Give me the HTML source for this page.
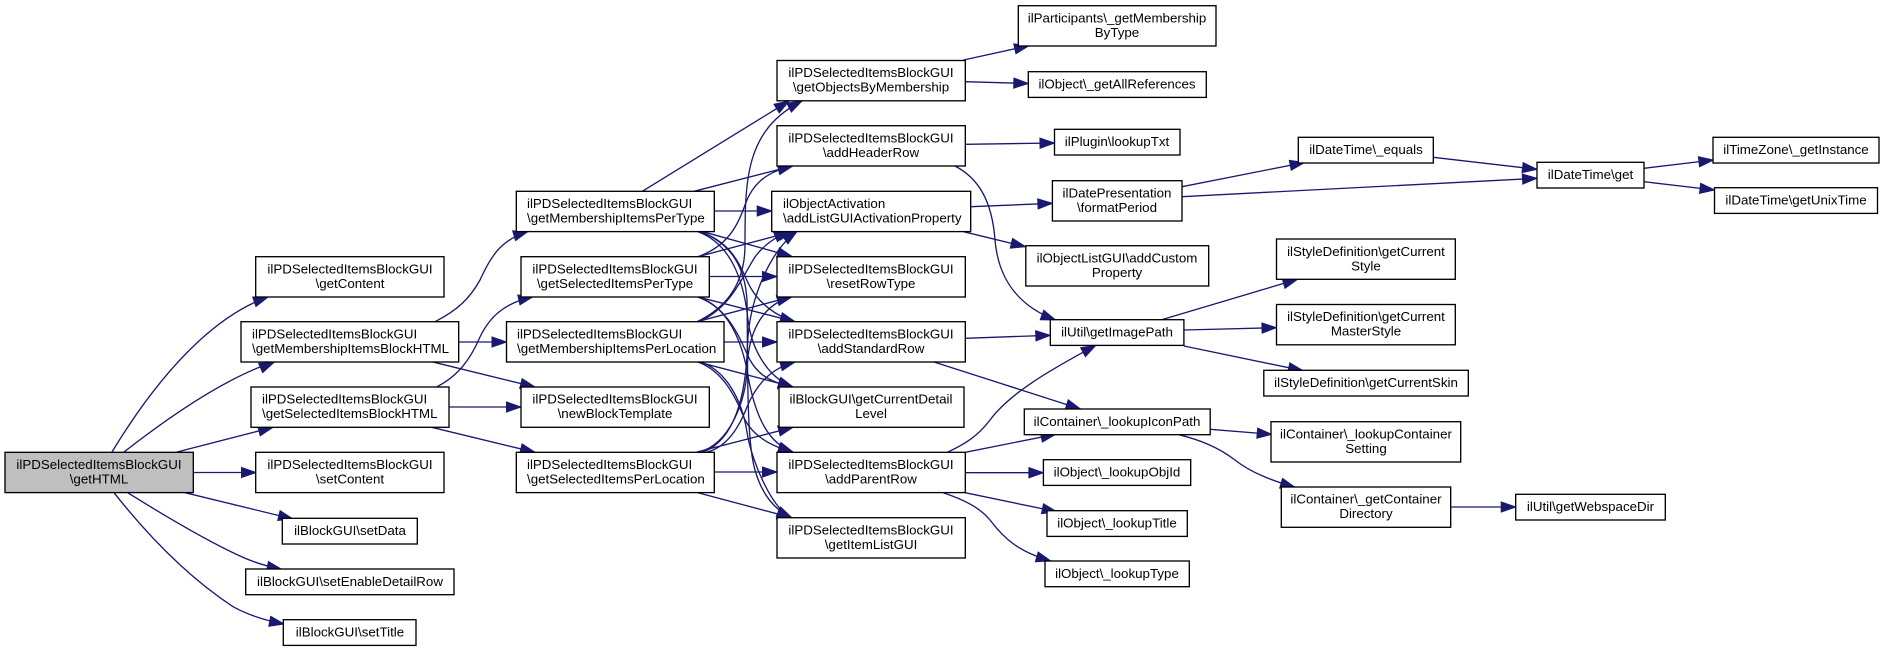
<!DOCTYPE html>
<html><head><meta charset="utf-8"><style>
html,body{margin:0;padding:0;background:#fff}
svg{display:block}
text{font-family:"Liberation Sans",Arial,sans-serif;font-size:13.33px;fill:#000;text-anchor:middle}
text.l{text-anchor:start}
rect{fill:#fff;stroke:#000;stroke-width:1.33}
path{fill:none;stroke:#191970;stroke-width:1.33;marker-end:url(#a)}
#a path{fill:#191970;stroke:#191970;stroke-width:1;marker-end:none}
</style></head><body>
<svg xmlns="http://www.w3.org/2000/svg" width="1884" height="651" viewBox="0 0 1884 651">
<defs><marker id="a" markerUnits="userSpaceOnUse" markerWidth="17" markerHeight="13" refX="15.5" refY="6.25" orient="auto"><path d="M1,1.2L15.5,6.25L1,11.3Z"/></marker></defs>
<g>
<!-- getHTML edges -->
<path d="M112,452C135,414 165,372 200,340C222,320 245,305 268,297"/>
<path d="M124,452C165,420 215,385 260,367C265,365 270,364 274,362.3"/>
<path d="M177,452L273,427.3"/>
<path d="M193,472.5L256,472.5"/>
<path d="M185,492.7L293,519"/>
<path d="M127.7,492.7C165,516 205,540 240,556C255,563 270,567 281.7,569.3"/>
<path d="M114,492.7C145,532 185,575 233,606.7C250,616 268,621 284,624"/>
<!-- block html edges -->
<path d="M435.7,321.3C458,310 470,298 480,280C490,258 500,240 528,231.5"/>
<path d="M458.7,342L506.5,342"/>
<path d="M431.7,361.7L535,387"/>
<path d="M437,386.7C458,376 470,360 480,337C490,316 505,303 533,296.7"/>
<path d="M449,407L521,407"/>
<path d="M431.7,427.3L535,452.3"/>
<!-- column 3 to 4 -->
<path d="M642.3,191.3L789,101"/>
<path d="M694,191.3L792.7,166"/>
<path d="M714.3,211L771.7,211"/>
<path d="M703,231.7L792,256.5"/>
<path d="M700,231.7C738,244 742,275 752,290C760,303 775,316 795,321.7"/>
<path d="M698,231.7C735,245 745,290 748,320C752,352 770,379 793,387"/>
<path d="M701,231.7C732,244 745,268 747,300C748,360 746,440 755,470C762,495 775,510 791.7,517.7"/>
<path d="M698,256.7C728,246 738,225 745,205C752,185 765,172 792.7,166"/>
<path d="M698,256.7L793,231.5"/>
<path d="M709.3,276.5L777,276.5"/>
<path d="M697,296.7L795,321.7"/>
<path d="M697,296.7C730,308 740,340 750,360C760,378 775,383 793,387"/>
<path d="M697,296.7C725,305 740,335 747,370C755,420 770,444 793,452"/>
<path d="M697,321.7C730,306 745,280 745,245C745,180 745,130 802,101"/>
<path d="M699,321.7C732,307 743,275 755,257C765,243 778,236 789,231.5"/>
<path d="M697,321.7L791.7,296.7"/>
<path d="M724,342L777,342"/>
<path d="M697,361.7L793,387"/>
<path d="M697,361.7C722,370 735,395 745,420C755,438 773,447 793,452"/>
<path d="M700,361.7C726,370 742,400 747,432C750,455 770,508 791.7,517.7"/>
<path d="M703,452C735,440 746,395 747.5,345C749,300 770,250 797,231.5"/>
<path d="M699,452C730,444 746,400 747,370C748,335 760,305 792,296.7"/>
<path d="M707,452C728,447 740,425 747,407C757,383 772,368 795,362"/>
<path d="M697,452L793,427.3"/>
<path d="M714.3,472L777,472"/>
<path d="M697,492.5L791.7,517.7"/>
<!-- right side -->
<path d="M963.6,60L1029,45.7"/>
<path d="M965.3,81.7L1028.3,83.5"/>
<path d="M965.3,144.3L1054.5,143"/>
<path d="M955,166C978,178 992,200 995,240C998,275 1015,305 1055.6,320"/>
<path d="M970.8,206.7L1052.4,203.3"/>
<path d="M963.6,231.7L1025.5,246.7"/>
<path d="M1182,186.7L1304.5,162.5"/>
<path d="M1182,196.7L1537,178.3"/>
<path d="M1433.3,157.3L1537,169.3"/>
<path d="M1644,168.3L1713.4,160"/>
<path d="M1644,181.7L1714.5,190"/>
<path d="M1161.6,319.7L1297.5,279.3"/>
<path d="M1183.9,330L1276.5,327.7"/>
<path d="M1183.9,346L1303,370.7"/>
<path d="M965.3,338.3L1050.3,335.3"/>
<path d="M934,362L1080.5,409"/>
<path d="M947.3,452.3C965,444 978,436 990,420C1010,393 1050,370 1095.8,345.3"/>
<path d="M965.3,452.3L1055.6,434.3"/>
<path d="M965.3,472.7L1043.4,472.7"/>
<path d="M965,492.7L1056.7,511.7"/>
<path d="M943.3,492.7C965,500 980,508 990,520C1005,540 1020,552 1050.7,561"/>
<path d="M1210,429.3L1271.7,434.3"/>
<path d="M1178.9,434.7C1200,440 1218,447 1235,460C1250,472 1270,480 1295,487.3"/>
<path d="M1450.7,507L1515.7,507"/>
</g>
<g>
<rect x="5" y="452.3" width="188.3" height="40.3" style="fill:#bfbfbf"/><text x="99" y="469">ilPDSelectedItemsBlockGUI</text><text x="99" y="483.5">\getHTML</text>
<rect x="255.7" y="256.7" width="188.3" height="40.3"/><text x="350" y="273.5">ilPDSelectedItemsBlockGUI</text><text x="350" y="288">\getContent</text>
<rect x="241" y="321.7" width="217.7" height="40.3"/><text class="l" x="252" y="338.5">ilPDSelectedItemsBlockGUI</text><text class="l" x="252" y="353">\getMembershipItemsBlockHTML</text>
<rect x="251" y="387" width="198" height="40.3"/><text class="l" x="262" y="403.5">ilPDSelectedItemsBlockGUI</text><text class="l" x="262" y="418">\getSelectedItemsBlockHTML</text>
<rect x="255.7" y="452.3" width="188.3" height="40.3"/><text x="350" y="469">ilPDSelectedItemsBlockGUI</text><text x="350" y="483.5">\setContent</text>
<rect x="282.3" y="518.3" width="135" height="25.7"/><text x="350" y="535">ilBlockGUI\setData</text>
<rect x="245.7" y="569" width="208.3" height="25.7"/><text x="350" y="586">ilBlockGUI\setEnableDetailRow</text>
<rect x="283.3" y="619.7" width="132.7" height="25.7"/><text x="350" y="636.5">ilBlockGUI\setTitle</text>

<rect x="516.3" y="191.3" width="198" height="40.3"/><text class="l" x="527" y="208">ilPDSelectedItemsBlockGUI</text><text class="l" x="527" y="222.5">\getMembershipItemsPerType</text>
<rect x="521" y="256.7" width="188.3" height="40.3"/><text x="615" y="273.5">ilPDSelectedItemsBlockGUI</text><text x="615" y="288">\getSelectedItemsPerType</text>
<rect x="506.5" y="321.7" width="217.5" height="40.3"/><text class="l" x="517" y="338.5">ilPDSelectedItemsBlockGUI</text><text class="l" x="517" y="353">\getMembershipItemsPerLocation</text>
<rect x="521" y="387" width="188.3" height="40.3"/><text x="615" y="403.5">ilPDSelectedItemsBlockGUI</text><text x="615" y="418">\newBlockTemplate</text>
<rect x="516.3" y="452.3" width="198" height="40.3"/><text class="l" x="527" y="469">ilPDSelectedItemsBlockGUI</text><text class="l" x="527" y="483.5">\getSelectedItemsPerLocation</text>

<rect x="777" y="60.5" width="188.3" height="40.3"/><text x="871" y="77">ilPDSelectedItemsBlockGUI</text><text x="871" y="91.5">\getObjectsByMembership</text>
<rect x="777" y="125.7" width="188.3" height="40.3"/><text x="871" y="142.5">ilPDSelectedItemsBlockGUI</text><text x="871" y="157">\addHeaderRow</text>
<rect x="771.7" y="191.3" width="199" height="40.3"/><text class="l" x="783" y="208">ilObjectActivation</text><text class="l" x="783" y="222.5">\addListGUIActivationProperty</text>
<rect x="777" y="256.7" width="188.3" height="40.3"/><text x="871" y="273.5">ilPDSelectedItemsBlockGUI</text><text x="871" y="288">\resetRowType</text>
<rect x="777" y="321.7" width="188.3" height="40.3"/><text x="871" y="338.5">ilPDSelectedItemsBlockGUI</text><text x="871" y="353">\addStandardRow</text>
<rect x="779" y="387" width="185" height="40.3"/><text x="871" y="403.5">ilBlockGUI\getCurrentDetail</text><text x="871" y="418">Level</text>
<rect x="777" y="452.3" width="188.3" height="40.3"/><text x="871" y="469">ilPDSelectedItemsBlockGUI</text><text x="871" y="483.5">\addParentRow</text>
<rect x="777" y="517.7" width="188.3" height="40.3"/><text x="871" y="534.5">ilPDSelectedItemsBlockGUI</text><text x="871" y="549">\getItemListGUI</text>

<rect x="1018.3" y="5.7" width="197.7" height="40.3"/><text x="1117" y="22.5">ilParticipants\_getMembership</text><text x="1117" y="37">ByType</text>
<rect x="1028.3" y="71.7" width="178" height="25.7"/><text x="1117" y="88.5">ilObject\_getAllReferences</text>
<rect x="1054.5" y="129.3" width="125.5" height="25.7"/><text x="1117" y="146">ilPlugin\lookupTxt</text>
<rect x="1052.4" y="180.7" width="129.6" height="40.3"/><text x="1117" y="197.5">ilDatePresentation</text><text x="1117" y="212">\formatPeriod</text>
<rect x="1025.8" y="245.7" width="182.9" height="40.3"/><text x="1117" y="262.5">ilObjectListGUI\addCustom</text><text x="1117" y="277">Property</text>
<rect x="1050.3" y="319.7" width="133.6" height="25.7"/><text x="1117" y="336.5">ilUtil\getImagePath</text>
<rect x="1024.3" y="409" width="185.9" height="25.7"/><text x="1117" y="426">ilContainer\_lookupIconPath</text>
<rect x="1043.4" y="459.7" width="147.3" height="25.7"/><text x="1117" y="476.5">ilObject\_lookupObjId</text>
<rect x="1047" y="510.7" width="140.3" height="25.7"/><text x="1117" y="527.5">ilObject\_lookupTitle</text>
<rect x="1045" y="561" width="144.3" height="25.7"/><text x="1117" y="578">ilObject\_lookupType</text>

<rect x="1298.3" y="137.3" width="135" height="25.7"/><text x="1366" y="154">ilDateTime\_equals</text>
<rect x="1276.5" y="239" width="178.8" height="40.3"/><text x="1366" y="256">ilStyleDefinition\getCurrent</text><text x="1366" y="270.5">Style</text>
<rect x="1276.5" y="304.5" width="178.8" height="40.3"/><text x="1366" y="321">ilStyleDefinition\getCurrent</text><text x="1366" y="335.5">MasterStyle</text>
<rect x="1263.8" y="370.3" width="204.5" height="25.7"/><text x="1366" y="387">ilStyleDefinition\getCurrentSkin</text>
<rect x="1271" y="421.7" width="189.7" height="40.3"/><text x="1366" y="438.5">ilContainer\_lookupContainer</text><text x="1366" y="453">Setting</text>
<rect x="1281.3" y="487" width="169.4" height="40.3"/><text x="1366" y="503.5">ilContainer\_getContainer</text><text x="1366" y="518">Directory</text>

<rect x="1537" y="162.3" width="107" height="25.7"/><text x="1590.5" y="179">ilDateTime\get</text>
<rect x="1515.7" y="494.3" width="149.6" height="25.7"/><text x="1590.5" y="511">ilUtil\getWebspaceDir</text>
<rect x="1713" y="137.3" width="166" height="25.7"/><text x="1796" y="154">ilTimeZone\_getInstance</text>
<rect x="1714.5" y="187.7" width="163" height="25.7"/><text x="1796" y="204.5">ilDateTime\getUnixTime</text>
</g>
</svg>
</body></html>
